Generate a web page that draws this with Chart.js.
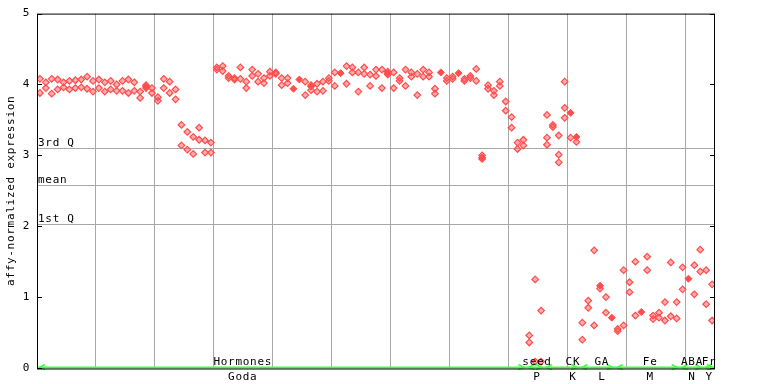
<!DOCTYPE html>
<html><head><meta charset="utf-8">
<script src="https://cdn.jsdelivr.net/npm/chart.js@4/dist/chart.umd.min.js"></script>
<style>html,body{margin:0;padding:0;background:#fff}#wrap{width:768px;height:384px}</style>
</head><body><div id="wrap"><canvas id="c" width="768" height="384"></canvas></div>
<script>
// replicate 1 (hollow markers), one value per sample
const rep1 = [
 4.08,4.03,4.08,4.07,4.03,4.05,4.06,4.07,4.11,4.05,
 4.07,4.03,4.05,4.00,4.05,4.07,4.03,3.90,3.99,3.95,
 3.82,4.08,4.04,3.93,3.43,3.33,3.26,3.39,3.21,3.18,
 4.24,4.26,4.12,4.09,4.24,4.04,4.21,4.15,4.09,4.18,
 4.17,4.09,4.09,null,null,4.04,3.99,4.01,4.04,4.09,
 4.17,null,4.26,4.24,4.17,4.24,4.14,4.21,4.21,4.18,
 4.17,4.09,4.21,4.17,4.15,4.21,4.17,3.94,null,4.09,
 4.11,null,4.08,4.12,4.22,3.00,3.99,3.91,4.04,3.76,
 3.54,3.18,3.22,0.46,1.25,0.81,3.57,3.43,3.28,4.04,
 3.25,3.19,0.64,0.95,1.66,1.12,1.00,null,0.55,1.38,
 1.21,1.50,null,1.57,0.74,0.78,0.93,1.49,0.93,1.42,
 null,1.45,1.67,1.38,1.18
];
// replicate 2 (hollow markers)
const rep2 = [
 3.88,3.95,3.87,3.93,3.96,3.93,3.95,3.96,3.94,3.90,
 3.95,3.90,3.93,3.91,3.91,3.88,3.91,3.81,3.95,3.88,
 3.77,3.95,3.88,3.79,3.14,3.08,3.02,3.22,3.04,3.04,
 4.21,4.19,4.09,4.07,4.08,3.95,4.12,4.04,4.02,4.12,
 4.15,3.99,4.02,null,null,3.85,3.92,3.90,3.91,4.05,
 3.98,null,4.01,4.17,3.90,4.15,3.98,4.12,3.95,4.14,
 3.95,4.05,3.98,4.11,3.85,4.11,4.11,3.87,null,4.05,
 4.08,null,4.05,4.09,4.05,2.95,3.94,3.85,3.98,3.63,
 3.39,3.09,3.14,0.36,0.09,0.09,3.25,3.40,3.01,3.67,
 null,null,0.40,0.85,0.60,null,0.78,null,0.52,0.60,
 1.07,0.74,null,1.38,0.69,0.71,0.67,0.73,0.70,1.11,
 null,1.04,1.36,0.90,0.67
];
// third replicate where present
const rep3Idx = [86, 88, 89];
const rep3Val = [3.15, 2.90, 3.53];
// coinciding replicates (solid markers)
const solidIdx = [18, 43, 44, 46, 51, 59, 68, 71, 75, 90, 91, 95, 97, 102, 110];
const solidVal = [3.97, 3.94, 4.07, 3.97, 4.16, 4.16, 4.17, 4.16, 2.97, 3.60, 3.26, 1.16, 0.71, 0.79, 1.26];

// y-axis ticks and reference lines
const yTicks = [0, 1, 2, 3, 4, 5];
const refLabels = ['3rd Q', 'mean', '1st Q'];
const refValues = [3.10, 2.58, 2.03];

// sample groups (category index ranges)
const groupTop = ['Hormones', 'seed', 'CK', 'GA', 'Fe', 'ABA', 'Fr'];
const groupBottom = ['Goda', 'P', 'K', 'L', 'M', 'N', 'Y'];
const groupStart = [0, 83, 86, 92, 98, 109, 113];
const groupEnd = [82, 85, 91, 97, 108, 112, 114];
const groupLabelAt = [34.4, 84.3, 90.4, 95.3, 103.5, 110.6, 113.5];
const samplesPerGrid = 10;

const RED = '#ff4d4d';
const GRID = '#a8a8a8';
const GREEN = '#40ff40';
const FONT = '11px "DejaVu Sans Mono"';

const toPts = arr => arr.map((v, i) => v == null ? null : {x: i, y: v}).filter(p => p);
const pairPts = (idx, val) => idx.map((i, k) => ({x: i, y: val[k]}));
const nSamples = rep1.length;
const gridVals = [];
for (let k = samplesPerGrid; k < nSamples; k += samplesPerGrid) gridVals.push(k - 0.5);

const hollow = {pointStyle: 'rectRot', pointRadius: 3.3, pointBorderWidth: 1.2,
  borderColor: RED, backgroundColor: 'rgba(255,77,77,0.45)', pointHoverRadius: 3.3};

const decor = {
  id: 'decor',
  beforeDraw(chart) { chart.ctx.letterSpacing = '0.7px'; },
  beforeDatasetsDraw(chart) {
    const {ctx, chartArea: a, scales: {y}} = chart;
    ctx.save();
    ctx.strokeStyle = GRID; ctx.lineWidth = 1;
    ctx.font = FONT; ctx.fillStyle = '#000'; ctx.textAlign = 'left'; ctx.textBaseline = 'alphabetic';
    refValues.forEach((v, k) => {
      const py = Math.round(y.getPixelForValue(v)) + 0.5;
      ctx.beginPath(); ctx.moveTo(a.left, py); ctx.lineTo(a.right, py); ctx.stroke();
      ctx.fillText(refLabels[k], a.left + 1, py - 2.5);
    });
    ctx.restore();
  },
  afterDraw(chart) {
    const {ctx, chartArea: a, scales: {x, y}} = chart;
    ctx.save();
    // green group line
    const gy = a.bottom - 0.5;
    ctx.strokeStyle = GREEN; ctx.lineWidth = 2;
    ctx.beginPath(); ctx.moveTo(a.left, gy); ctx.lineTo(a.right, gy); ctx.stroke();
    ctx.lineWidth = 1.5;
    groupStart.forEach((s, k) => {
      const xs = Math.max(a.left + 1, x.getPixelForValue(s - 0.5) + 2);
      const xe = Math.min(a.right - 1, x.getPixelForValue(groupEnd[k] + 0.5) - 2);
      ctx.beginPath();
      ctx.moveTo(xs + 6, gy - 3); ctx.lineTo(xs, gy); ctx.lineTo(xs + 6, gy + 2);
      ctx.moveTo(xe - 6, gy - 3); ctx.lineTo(xe, gy); ctx.lineTo(xe - 6, gy + 2);
      ctx.stroke();
    });
    // black frame
    ctx.strokeStyle = '#000'; ctx.lineWidth = 1;
    ctx.strokeRect(a.left + 0.5, a.top + 0.5, a.right - a.left - 1, a.bottom - a.top + 0.5);
    // inward tick marks
    ctx.beginPath();
    yTicks.forEach(v => {
      const py = Math.round(y.getPixelForValue(v)) + 0.5;
      ctx.moveTo(a.left, py); ctx.lineTo(a.left + 5, py);
      ctx.moveTo(a.right - 5, py); ctx.lineTo(a.right, py);
    });
    ctx.stroke();
    // group labels
    ctx.font = FONT; ctx.fillStyle = '#000'; ctx.textAlign = 'center'; ctx.textBaseline = 'alphabetic';
    groupLabelAt.forEach((c, k) => {
      const px = x.getPixelForValue(c);
      ctx.fillText(groupTop[k], px, a.bottom - 3);
      ctx.fillText(groupBottom[k], px, a.bottom + 12);
    });
    ctx.restore();
  }
};

new Chart(document.getElementById('c'), {
  type: 'scatter',
  data: {datasets: [
    Object.assign({label: 'rep1', data: toPts(rep1)}, hollow),
    Object.assign({label: 'rep2', data: toPts(rep2)}, hollow),
    Object.assign({label: 'rep3', data: pairPts(rep3Idx, rep3Val)}, hollow),
    {label: 'solid', data: pairPts(solidIdx, solidVal), pointStyle: 'rectRot', pointRadius: 3.5,
     pointBorderWidth: 1, borderColor: RED, backgroundColor: RED}
  ]},
  options: {
    animation: false, responsive: false, devicePixelRatio: 1,
    layout: {padding: {left: 0, right: 53, top: 13, bottom: 16}, autoPadding: false},
    plugins: {legend: {display: false}, tooltip: {enabled: false}},
    scales: {
      x: {type: 'linear', min: -0.5, max: nSamples - 0.5,
        afterBuildTicks: s => { s.ticks = gridVals.map(v => ({value: v})); },
        ticks: {display: false}, grid: {color: GRID, lineWidth: 1, drawTicks: false},
        border: {display: false}, afterFit: s => { s.height = 0; }},
      y: {min: 0, max: 5,
        afterBuildTicks: s => { s.ticks = yTicks.map(v => ({value: v})); },
        ticks: {padding: 7, color: '#000', font: {family: 'DejaVu Sans Mono', size: 11}},
        grid: {display: false, drawTicks: false}, border: {display: false},
        title: {display: true, text: 'affy-normalized expression', color: '#000',
          font: {family: 'DejaVu Sans Mono', size: 11}, padding: {top: 5, bottom: 0}},
        afterFit: s => { s.width = 37; }}
    }
  },
  plugins: [decor]
});
</script></body></html>
